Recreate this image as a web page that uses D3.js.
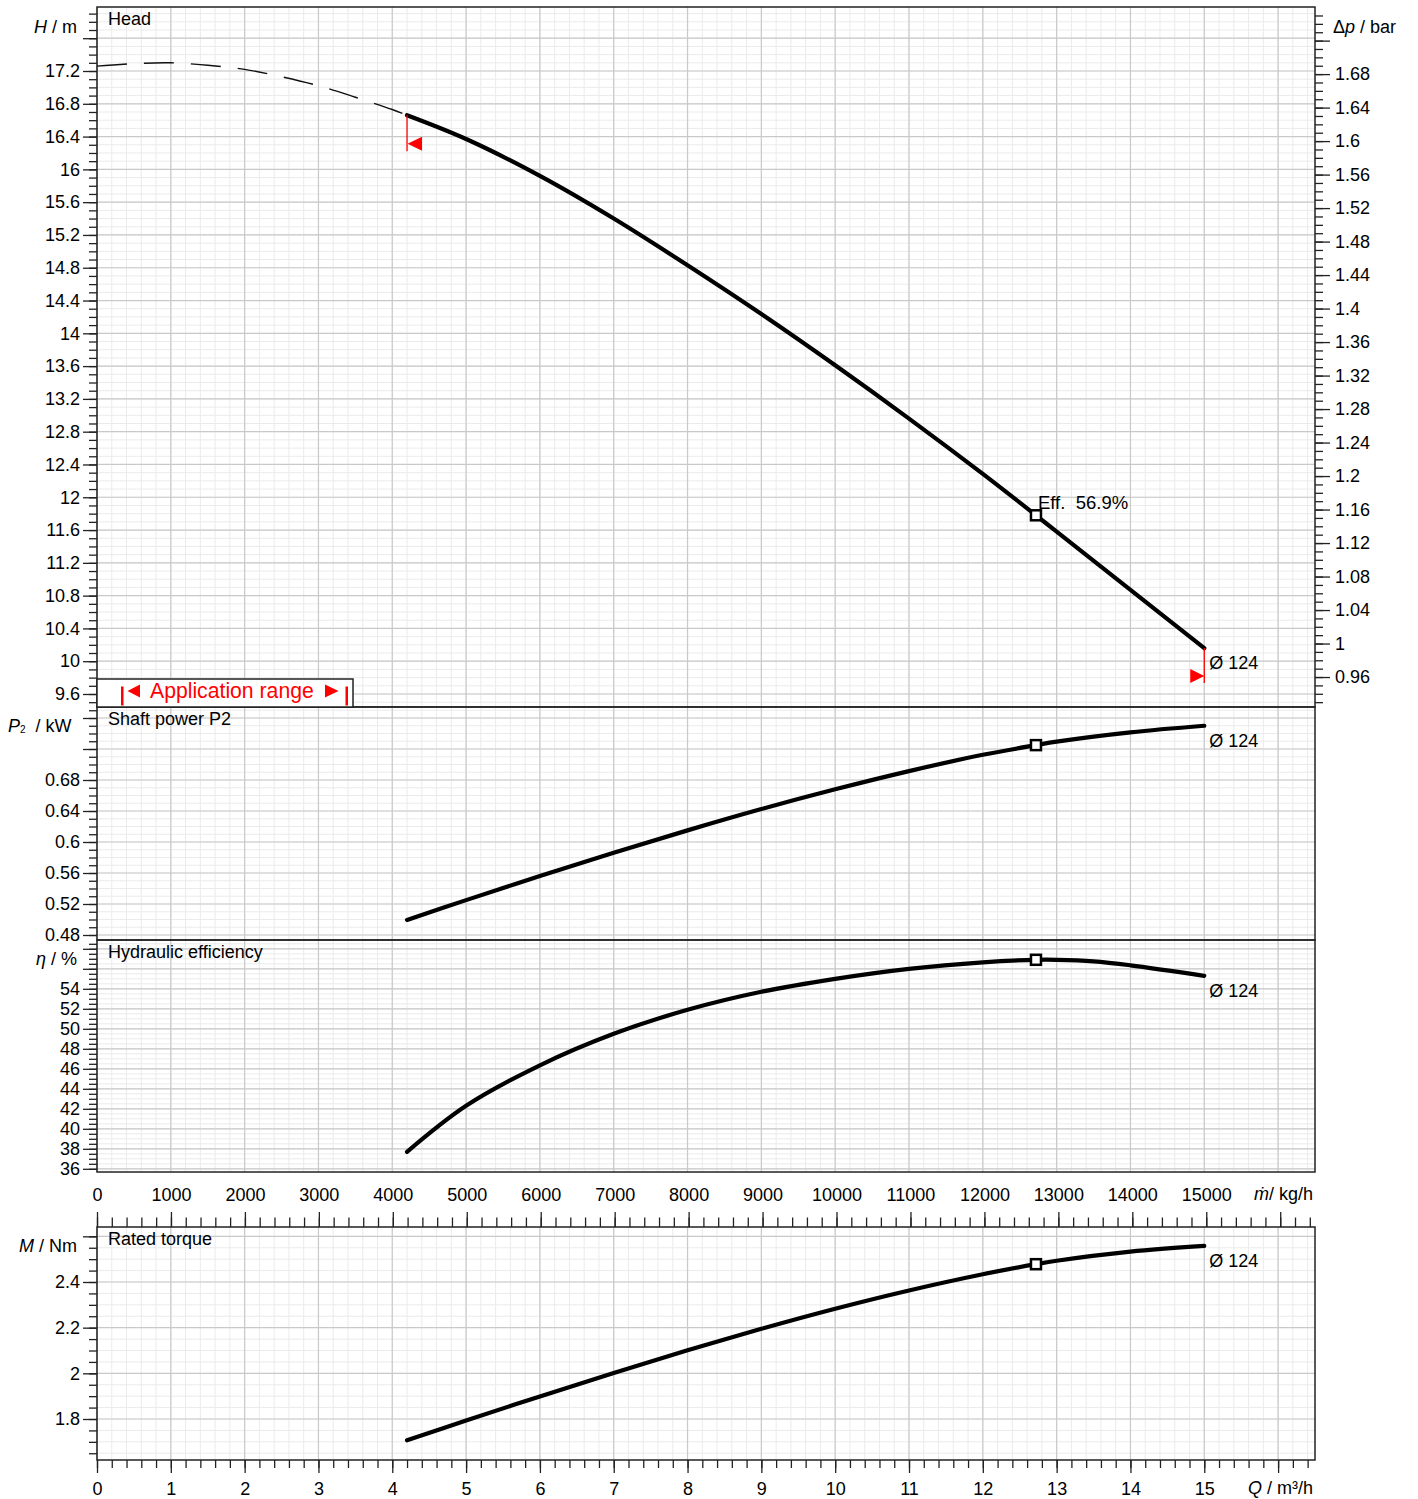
<!DOCTYPE html>
<html>
<head>
<meta charset="utf-8">
<script src="https://cdn.jsdelivr.net/npm/d3@7"></script>
<style>
  body { margin: 0; background: #fff; }
  text { font-family: "Liberation Sans", Arial, "DejaVu Sans", sans-serif; fill: #000; }
</style>
</head>
<body>
<svg id="chart" width="1418" height="1499"></svg>
<script>
// ---------------- DATA ----------------
// Head curve outside application range (dashed), Q in m³/h, H in m
const flowDashed = [0, 0.5, 1, 1.5, 2, 2.5, 3, 3.5, 4, 4.2];
const headDashed = [17.26, 17.29, 17.30, 17.27, 17.22, 17.13, 17.02, 16.88, 16.73, 16.66];
// Head curve inside application range (solid)
const flowSolid = [4.2, 5, 6, 7, 8, 9, 10, 11, 12, 12.72, 13, 14, 15];
const headSolid = [16.66, 16.37, 15.92, 15.40, 14.83, 14.235, 13.61, 12.96, 12.285, 11.78, 11.58, 10.87, 10.16];
// Shaft power P2 / kW
const flowPower = [4.2, 5, 6, 7, 8, 9, 10, 11, 12, 12.72, 13, 14, 15];
const powerValues = [0.4995, 0.525, 0.556, 0.586, 0.615, 0.6425, 0.668, 0.6915, 0.7125, 0.725, 0.7295, 0.7415, 0.750];
// Hydraulic efficiency / %
const flowEff = [4.2, 5, 6, 7, 8, 9, 10, 11, 12, 12.72, 13, 13.5, 14, 15];
const effValues = [37.7, 42.3, 46.35, 49.5, 51.9, 53.7, 55.0, 56.0, 56.65, 56.9, 56.9, 56.75, 56.35, 55.3];
// Rated torque / Nm
const flowTorque = [4.2, 5, 6, 7, 8, 9, 10, 11, 12, 12.72, 13, 14, 15];
const torqueValues = [1.707, 1.793, 1.899, 2.002, 2.101, 2.195, 2.283, 2.363, 2.434, 2.478, 2.493, 2.533, 2.558];
// Duty point
const dutyFlow = 12.72, dutyHead = 11.78, dutyPower = 0.725, dutyEff = 56.9, dutyTorque = 2.478;
const impellerLabel = "Ø 124";
const dutyLabel = "Eff.  56.9%";
const densityKgM3 = 998.2, gravity = 9.80665;

// Tick labels
const headTickLabels = [9.6, 10, 10.4, 10.8, 11.2, 11.6, 12, 12.4, 12.8, 13.2, 13.6, 14, 14.4, 14.8, 15.2, 15.6, 16, 16.4, 16.8, 17.2];
const dpTickLabels = [0.96, 1, 1.04, 1.08, 1.12, 1.16, 1.2, 1.24, 1.28, 1.32, 1.36, 1.4, 1.44, 1.48, 1.52, 1.56, 1.6, 1.64, 1.68];
const powerTickLabels = [0.48, 0.52, 0.56, 0.6, 0.64, 0.68];
const effTickLabels = [36, 38, 40, 42, 44, 46, 48, 50, 52, 54];
const torqueTickLabels = [1.8, 2, 2.2, 2.4];
const massTickLabels = [0, 1000, 2000, 3000, 4000, 5000, 6000, 7000, 8000, 9000, 10000, 11000, 12000, 13000, 14000, 15000];
const flowTickLabels = [0, 1, 2, 3, 4, 5, 6, 7, 8, 9, 10, 11, 12, 13, 14, 15];

// ---------------- LAYOUT ----------------
const svg = d3.select("#chart");
const L = 97, R = 1315;
const x = d3.scaleLinear().domain([0, 16.5]).range([L, R]);
const xm = d3.scaleLinear().domain([0, 16.5 * densityKgM3]).range([L, R]);
const barPerM = densityKgM3 * gravity / 1e5;

const yH = d3.scaleLinear().domain([9.6, 17.2]).range([694, 71]);
const yDp = d3.scaleLinear().domain([9.6 * barPerM, 17.2 * barPerM]).range([694, 71]);
const yP = d3.scaleLinear().domain([0.48, 0.68]).range([935, 780]);
const yE = d3.scaleLinear().domain([36, 54]).range([1168.8, 988.8]);
const yM = d3.scaleLinear().domain([1.8, 2.4]).range([1419, 1282]);

const panels = [
  {title: "Head", top: 7, bottom: 707, y: yH, minor: 0.1, major: 0.4, labels: headTickLabels},
  {title: "Shaft power P2", top: 707, bottom: 940, y: yP, minor: 0.01, major: 0.04, labels: powerTickLabels},
  {title: "Hydraulic efficiency", top: 940, bottom: 1172, y: yE, minor: 0.5, major: 2, labels: effTickLabels},
  {title: "Rated torque", top: 1227, bottom: 1460, y: yM, minor: 0.05, major: 0.2, labels: torqueTickLabels}
];

function valsIn(scale, step, top, bottom) {
  const a = Math.min(scale.invert(top), scale.invert(bottom));
  const b = Math.max(scale.invert(top), scale.invert(bottom));
  const out = [];
  for (let i = Math.ceil(a / step - 1e-6); i * step <= b + 1e-9; i++) out.push(+(i * step).toFixed(6));
  return out;
}
const fmt = d => String(+d.toFixed(3));
const inList = (list, d) => list.some(v => Math.abs(v - d) < 1e-6);

const qMinor = d3.range(0, 83).map(i => +(i * 0.2).toFixed(4)).filter(v => v <= 16.5);
const qMajor = d3.range(0, 17);

const gGrid = svg.append("g");
const gFrame = svg.append("g");
const gAxes = svg.append("g");
const gCurves = svg.append("g");

const MINOR = "#ebebeb", MAJOR = "#c9c9c9";
const TICK_FS = 18;

function styleAxis(g) {
  g.select(".domain").remove();
  g.selectAll("line").attr("stroke", "#222").attr("stroke-width", 1.3);
  g.selectAll("text").attr("font-size", TICK_FS).attr("font-family", null).style("fill", "#000");
}

panels.forEach(p => {
  gGrid.selectAll(null).data(qMinor).enter().append("line")
    .attr("x1", d => x(d)).attr("x2", d => x(d)).attr("y1", p.top).attr("y2", p.bottom)
    .attr("stroke", MINOR).attr("stroke-width", 1);
  gGrid.selectAll(null).data(valsIn(p.y, p.minor, p.top, p.bottom)).enter().append("line")
    .attr("x1", L).attr("x2", R).attr("y1", d => p.y(d)).attr("y2", d => p.y(d))
    .attr("stroke", MINOR).attr("stroke-width", 1);
});
panels.forEach(p => {
  gGrid.selectAll(null).data(qMajor).enter().append("line")
    .attr("x1", d => x(d)).attr("x2", d => x(d)).attr("y1", p.top).attr("y2", p.bottom)
    .attr("stroke", MAJOR).attr("stroke-width", 1.2);
  gGrid.selectAll(null).data(valsIn(p.y, p.major, p.top, p.bottom)).enter().append("line")
    .attr("x1", L).attr("x2", R).attr("y1", d => p.y(d)).attr("y2", d => p.y(d))
    .attr("stroke", MAJOR).attr("stroke-width", 1.2);

  gFrame.append("rect").attr("x", L).attr("y", p.top).attr("width", R - L).attr("height", p.bottom - p.top)
    .attr("fill", "none").attr("stroke", "#222").attr("stroke-width", 1.5);

  const minorAx = d3.axisLeft(p.y).tickValues(valsIn(p.y, p.minor, p.top + 2, p.bottom - 2)).tickSize(8).tickFormat("");
  const majorAx = d3.axisLeft(p.y).tickValues(valsIn(p.y, p.major, p.top + 2, p.bottom - 2)).tickSize(14).tickPadding(3)
    .tickFormat(d => inList(p.labels, d) ? fmt(d) : "");
  [minorAx, majorAx].forEach(ax => styleAxis(gAxes.append("g").attr("transform", `translate(${L},0)`).call(ax)));

  gAxes.append("text").attr("x", 108).attr("y", p.top + 18).attr("font-size", 18).text(p.title);
});

// right Δp axis on head panel
{
  const hp = panels[0];
  const minorAx = d3.axisRight(yDp).tickValues(valsIn(yDp, 0.01, hp.top + 2, hp.bottom - 2)).tickSize(8).tickFormat("");
  const majorAx = d3.axisRight(yDp).tickValues(valsIn(yDp, 0.04, hp.top + 2, hp.bottom - 2)).tickSize(15).tickPadding(5)
    .tickFormat(d => inList(dpTickLabels, d) ? fmt(d) : "");
  [minorAx, majorAx].forEach(ax => styleAxis(gAxes.append("g").attr("transform", `translate(${R},0)`).call(ax)));
}

// mass flow axis (top of torque panel)
{
  const mMinor = d3.range(0, 83).map(i => i * 200).filter(v => xm(v) <= R - 1);
  const mMajor = d3.range(0, 17).map(i => i * 1000);
  const minorAx = d3.axisTop(xm).tickValues(mMinor).tickSize(9.5).tickFormat("");
  const majorAx = d3.axisTop(xm).tickValues(mMajor).tickSize(15).tickPadding(11)
    .tickFormat(d => inList(massTickLabels, d) ? String(d) : "");
  [minorAx, majorAx].forEach(ax => styleAxis(gAxes.append("g").attr("transform", `translate(0,${panels[3].top})`).call(ax)));
  const t = gAxes.append("text").attr("x", 1313).attr("y", 1200).attr("text-anchor", "end").attr("font-size", 18);
  t.append("tspan").attr("font-style", "italic").text("ṁ");
  t.append("tspan").text("/ kg/h");
}

// Q axis (bottom)
{
  const minorAx = d3.axisBottom(x).tickValues(qMinor.filter(v => v < 16.45)).tickSize(8).tickFormat("");
  const majorAx = d3.axisBottom(x).tickValues(qMajor).tickSize(13).tickPadding(9)
    .tickFormat(d => inList(flowTickLabels, d) ? String(d) : "");
  [minorAx, majorAx].forEach(ax => styleAxis(gAxes.append("g").attr("transform", `translate(0,${panels[3].bottom})`).call(ax)));
  const t = gAxes.append("text").attr("x", 1313).attr("y", 1494).attr("text-anchor", "end").attr("font-size", 18);
  t.append("tspan").attr("font-style", "italic").text("Q");
  t.append("tspan").text(" / m³/h");
}

// axis titles
{
  let t = gAxes.append("text").attr("x", 77).attr("y", 33).attr("text-anchor", "end").attr("font-size", 18);
  t.append("tspan").attr("font-style", "italic").text("H");
  t.append("tspan").text(" / m");

  t = gAxes.append("text").attr("x", 1333).attr("y", 33).attr("font-size", 18);
  t.append("tspan").text("Δ");
  t.append("tspan").attr("font-style", "italic").text("p");
  t.append("tspan").text(" / bar");

  t = gAxes.append("text").attr("x", 8).attr("y", 732).attr("font-size", 18);
  t.append("tspan").attr("font-style", "italic").text("P");
  t.append("tspan").attr("font-size", 10).attr("dy", 1).text("2");
  t.append("tspan").attr("dy", -1).text("  / kW").style("white-space", "pre");

  t = gAxes.append("text").attr("x", 77).attr("y", 965).attr("text-anchor", "end").attr("font-size", 18);
  t.append("tspan").attr("font-style", "italic").text("η");
  t.append("tspan").text(" / %");

  t = gAxes.append("text").attr("x", 77).attr("y", 1252).attr("text-anchor", "end").attr("font-size", 18);
  t.append("tspan").attr("font-style", "italic").text("M");
  t.append("tspan").text(" / Nm");
}

// ---------------- CURVES ----------------
const line = (ys) => d3.line().x(d => x(d[0])).y(d => ys(d[1])).curve(d3.curveCatmullRom.alpha(0.5));
const zip = (a, b) => a.map((v, i) => [v, b[i]]);

gCurves.append("path").datum(zip(flowDashed, headDashed)).attr("d", line(yH))
  .attr("fill", "none").attr("stroke", "#111").attr("stroke-width", 1.4).attr("stroke-dasharray", "30,17");

const series = [
  {q: flowSolid, v: headSolid, y: yH, dv: dutyHead},
  {q: flowPower, v: powerValues, y: yP, dv: dutyPower},
  {q: flowEff, v: effValues, y: yE, dv: dutyEff},
  {q: flowTorque, v: torqueValues, y: yM, dv: dutyTorque}
];
series.forEach(s => {
  gCurves.append("path").datum(zip(s.q, s.v)).attr("d", line(s.y))
    .attr("fill", "none").attr("stroke", "#000").attr("stroke-width", 4.2).attr("stroke-linecap", "round");
  const ex = x(s.q[s.q.length - 1]), ey = s.y(s.v[s.v.length - 1]);
  gCurves.append("text").attr("x", ex + 5).attr("y", ey + 21).attr("font-size", 18).text(impellerLabel);
});

// red application-range markers on head curve
{
  const x0 = x(flowSolid[0]), y0 = yH(headSolid[0]);
  gCurves.append("line").attr("x1", x0).attr("x2", x0).attr("y1", y0).attr("y2", y0 + 36)
    .attr("stroke", "#f00").attr("stroke-width", 1.3);
  gCurves.append("path").attr("d", `M${x0 + 0.5},${y0 + 28.5}L${x0 + 15},${y0 + 21.5}L${x0 + 15},${y0 + 35.5}Z`).attr("fill", "#f00");
  const xe = x(flowSolid[flowSolid.length - 1]), ye = yH(headSolid[headSolid.length - 1]);
  gCurves.append("line").attr("x1", xe).attr("x2", xe).attr("y1", ye).attr("y2", ye + 35)
    .attr("stroke", "#f00").attr("stroke-width", 1.3);
  gCurves.append("path").attr("d", `M${xe},${ye + 28}L${xe - 14},${ye + 21}L${xe - 14},${ye + 35}Z`).attr("fill", "#f00");
}

// duty point markers
series.forEach(s => {
  gCurves.append("rect").attr("x", x(dutyFlow) - 5).attr("y", s.y(s.dv) - 5).attr("width", 10).attr("height", 10)
    .attr("fill", "#fff").attr("stroke", "#000").attr("stroke-width", 2.5);
});
gCurves.append("text").attr("x", x(dutyFlow) + 2).attr("y", yH(dutyHead) - 6.5).attr("font-size", 18.5)
  .style("white-space", "pre").text(dutyLabel);

// application range box
{
  const g = svg.append("g");
  g.append("rect").attr("x", L).attr("y", 679).attr("width", 256).attr("height", 28)
    .attr("fill", "#fff").attr("stroke", "#222").attr("stroke-width", 1.5);
  g.append("rect").attr("x", 121).attr("y", 686.5).attr("width", 2.5).attr("height", 19).attr("fill", "#f00");
  g.append("rect").attr("x", 345.5).attr("y", 686.5).attr("width", 2.5).attr("height", 19).attr("fill", "#f00");
  g.append("path").attr("d", "M127.5,691L140,684.5L140,697.5Z").attr("fill", "#f00");
  g.append("path").attr("d", "M325,684.5L338.5,691L325,697.5Z").attr("fill", "#f00");
  g.append("text").attr("x", 150).attr("y", 698).attr("font-size", 21.2).style("fill", "#f00").text("Application range");
}
</script>
</body>
</html>
